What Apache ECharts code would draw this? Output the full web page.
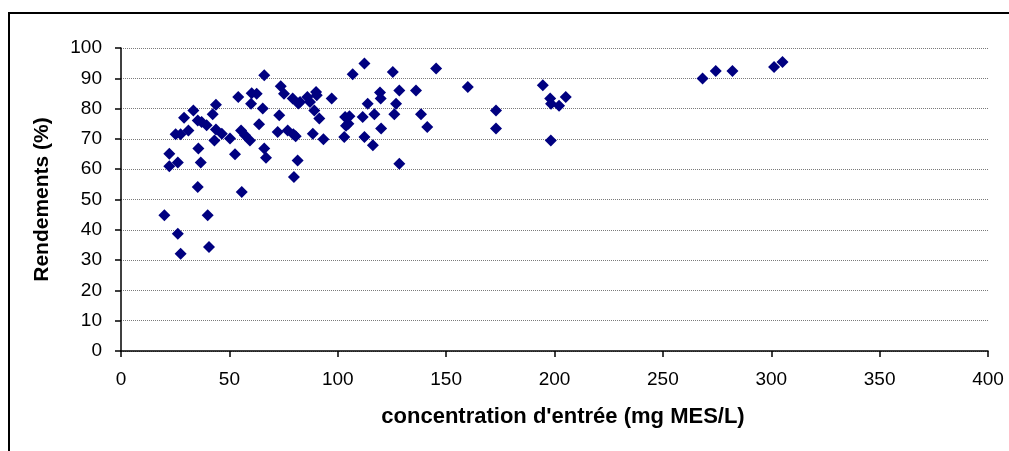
<!DOCTYPE html>
<html>
<head>
<meta charset="utf-8">
<script src="https://cdn.jsdelivr.net/npm/echarts@6/dist/echarts.min.js"></script>
<style>
  html, body { margin: 0; padding: 0; background: #fff; }
  #chart { width: 1009px; height: 451px; }
</style>
</head>
<body>
<div id="chart"></div>
<script>
// concentration d'entrée (mg MES/L)
const concentration = [
  20.0, 22.3, 22.3, 26.2, 26.2, 27.5, 25.2, 27.5, 29.1, 31.1,
  33.4, 35.4, 37.2, 39.5, 35.7, 36.8, 35.4, 40.0, 40.6, 42.3,
  43.8, 43.8, 43.1, 46.5, 50.3, 52.6, 55.7, 54.1, 55.4, 57.2,
  59.5, 60.0, 60.3, 62.6, 65.4, 63.7, 66.1, 66.1, 66.9, 73.7,
  75.2, 73.0, 72.3, 76.9, 79.5, 80.6, 79.2, 81.8, 82.6, 79.8,
  81.5, 86.0, 87.2, 90.0, 90.3, 89.2, 91.5, 88.5, 93.4, 97.2,
  103.4, 105.4, 103.8, 104.9, 103.0, 106.9, 112.3, 111.5, 113.8, 112.3,
  116.9, 116.2, 119.5, 119.8, 120.0, 125.4, 128.4, 126.9, 126.1, 128.4,
  136.1, 138.4, 141.3, 145.4, 160.0, 173.0, 173.0, 194.6, 198.0, 198.4,
  202.1, 205.2, 198.3, 268.3, 274.4, 282.1, 301.3, 305.2
];
// Rendements (%)
const rendements = [
  44.8, 65.1, 61.0, 62.2, 38.7, 32.1, 71.5, 71.5, 77.0, 72.8,
  79.4, 76.1, 75.6, 74.5, 66.8, 62.2, 54.1, 44.8, 34.3, 78.1,
  81.3, 73.1, 69.5, 71.7, 70.1, 64.9, 52.5, 83.8, 72.8, 71.2,
  69.5, 81.6, 85.1, 84.9, 80.0, 74.8, 91.0, 66.8, 63.8, 87.4,
  84.9, 77.8, 72.3, 72.8, 71.5, 70.9, 83.3, 81.7, 82.2, 57.4,
  62.9, 83.8, 82.2, 85.5, 84.4, 79.4, 76.7, 71.7, 69.9, 83.3,
  77.2, 77.5, 74.3, 75.0, 70.6, 91.3, 94.9, 77.2, 81.6, 70.6,
  78.1, 67.9, 85.3, 83.3, 73.4, 92.1, 86.0, 81.6, 78.1, 61.8,
  86.0, 78.1, 73.9, 93.2, 87.1, 79.4, 73.4, 87.7, 83.3, 81.6,
  80.9, 83.8, 69.5, 89.9, 92.4, 92.4, 93.7, 95.4
];

const points = concentration.map((c, i) => [c, rendements[i]]);
const font = '"Liberation Sans", Arial, sans-serif';

let chart = echarts.init(document.getElementById('chart'));
chart.setOption({
    animation: false,
    backgroundColor: '#fff',
    grid: { left: 121, right: 21, top: 48, bottom: 100 },
    graphic: [{
        type: 'rect',
        silent: true,
        shape: { x: 9, y: 13, width: 1100, height: 500 },
        style: { fill: 'none', stroke: '#000', lineWidth: 2 }
    }],
    xAxis: {
        type: 'value',
        min: 0, max: 400, interval: 50,
        name: "concentration d'entrée (mg MES/L)",
        nameLocation: 'middle',
        nameGap: 55,
        nameTextStyle: { fontFamily: font, fontSize: 22, fontWeight: 'bold', color: '#000', padding: [0, 0, 0, 17] },
        axisLine: { lineStyle: { color: '#000', width: 1.5 } },
        axisTick: { show: true, inside: false, length: 6, lineStyle: { color: '#000', width: 1.5 } },
        axisLabel: { fontFamily: font, fontSize: 19, color: '#000', margin: 19 },
        splitLine: { show: false }
    },
    yAxis: {
        type: 'value',
        min: 0, max: 100, interval: 10,
        name: 'Rendements (%)',
        nameLocation: 'middle',
        nameGap: 68,
        nameRotate: 90,
        nameTextStyle: { fontFamily: font, fontSize: 21, fontWeight: 'bold', color: '#000' },
        axisLine: { show: true, lineStyle: { color: '#000', width: 1.5 } },
        axisTick: { show: true, inside: false, length: 6, lineStyle: { color: '#000', width: 1.5 } },
        axisLabel: { fontFamily: font, fontSize: 19, color: '#000', margin: 19 },
        splitLine: { show: true, lineStyle: { color: '#7a7a7a', type: 'dotted', width: 1 } }
    },
    series: [{
        type: 'scatter',
        symbol: 'diamond',
        symbolSize: 12,
        itemStyle: { color: '#000080', opacity: 1 },
        data: points
    }]
});
</script>
</body>
</html>
